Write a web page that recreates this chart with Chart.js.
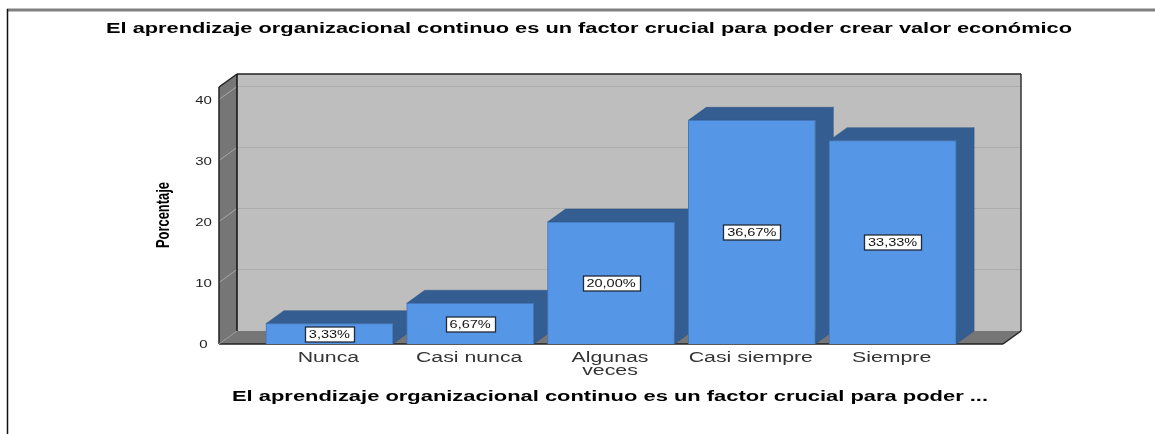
<!DOCTYPE html>
<html>
<head>
<meta charset="utf-8">
<title>Aprendizaje organizacional</title>
<script src="https://cdn.jsdelivr.net/npm/chart.js@4.4.0/dist/chart.umd.js"></script>
<style>
  html, body { margin: 0; padding: 0; background: #fff; overflow: hidden; }
  canvas { display: block; }
</style>
</head>
<body>
<canvas id="chart" width="1155" height="434"></canvas>
<script>
// Chart data
const categories = ['Nunca', 'Casi nunca', ['Algunas', 'veces'], 'Casi siempre', 'Siempre'];
const percentages = [3.33, 6.67, 20.00, 36.67, 33.33];
const yTicks = [0, 10, 20, 30, 40];
const chartTitle = 'El aprendizaje organizacional continuo es un factor crucial para poder crear valor económico';
const xTitle = 'El aprendizaje organizacional continuo es un factor crucial para poder ...';
const yTitle = 'Porcentaje';

// 3D look
const DEPTH_X = 18;
const DEPTH_Y = 13;
const WALL_MARGIN = 40; // gap between the chart area and the front edge of the floor
const SANS = '"Liberation Sans", sans-serif';
const LABEL_STRETCH = 1.32;

function poly(ctx, points, fill, stroke, lineWidth) {
  ctx.beginPath();
  points.forEach((p, i) => i ? ctx.lineTo(p[0], p[1]) : ctx.moveTo(p[0], p[1]));
  ctx.closePath();
  ctx.fillStyle = fill;
  ctx.fill();
  if (stroke) {
    ctx.strokeStyle = stroke;
    ctx.lineWidth = lineWidth || 1;
    ctx.stroke();
  }
}

function line(ctx, x1, y1, x2, y2, color, lineWidth) {
  ctx.beginPath();
  ctx.moveTo(x1, y1);
  ctx.lineTo(x2, y2);
  ctx.strokeStyle = color;
  ctx.lineWidth = lineWidth || 1;
  ctx.stroke();
}

// The reference text is stretched sideways, so squeeze or widen it to a given width or factor
function stretchedText(ctx, text, x, y, opts) {
  ctx.save();
  ctx.font = opts.font;
  ctx.fillStyle = opts.color || '#000';
  ctx.textAlign = 'center';
  ctx.textBaseline = 'middle';
  const sx = opts.width ? opts.width / ctx.measureText(text).width : opts.stretch;
  ctx.translate(x, y);
  if (opts.rotate) ctx.rotate(opts.rotate);
  ctx.scale(sx, 1);
  ctx.fillText(text, 0, 0);
  ctx.restore();
}

const walls3d = {
  id: 'walls3d',
  beforeDatasetsDraw(chart) {
    const { ctx, chartArea, scales } = chart;
    const left = chartArea.left - WALL_MARGIN;
    const right = chartArea.right + WALL_MARGIN;
    const bottom = chartArea.bottom;
    const top = chartArea.top;

    // page frame
    line(ctx, 7, 10, 1155, 10, '#808080', 3);
    line(ctx, 7.5, 9, 7.5, 434, '#111', 1.5);

    // back wall, left wall, floor
    poly(ctx, [[left + DEPTH_X, top - DEPTH_Y], [right + DEPTH_X, top - DEPTH_Y],
      [right + DEPTH_X, bottom - DEPTH_Y], [left + DEPTH_X, bottom - DEPTH_Y]], '#bebebe');
    poly(ctx, [[left, top], [left + DEPTH_X, top - DEPTH_Y],
      [left + DEPTH_X, bottom - DEPTH_Y], [left, bottom]], '#767676');
    poly(ctx, [[left, bottom], [left + DEPTH_X, bottom - DEPTH_Y],
      [right + DEPTH_X, bottom - DEPTH_Y], [right, bottom]], '#767676');

    // grid lines along both walls
    yTicks.slice(1).forEach(v => {
      const y = Math.round(scales.y.getPixelForValue(v)) - 0.5;
      line(ctx, left, y, left + DEPTH_X, y - DEPTH_Y, '#a8a8a8');
      line(ctx, left + DEPTH_X, y - DEPTH_Y, right + DEPTH_X, y - DEPTH_Y, '#adadad');
    });

    // wall outlines
    line(ctx, left, bottom, left, top, '#222', 1.5);
    line(ctx, left, top, left + DEPTH_X, top - DEPTH_Y, '#222', 1.5);
    line(ctx, left + DEPTH_X, top - DEPTH_Y, right + DEPTH_X, top - DEPTH_Y, '#222', 1.5);
    line(ctx, left + DEPTH_X, top - DEPTH_Y, left + DEPTH_X, bottom - DEPTH_Y, '#111', 1.5);
    line(ctx, right + DEPTH_X, top - DEPTH_Y, right + DEPTH_X, bottom - DEPTH_Y, '#333', 1.5);
    line(ctx, right + DEPTH_X, bottom - DEPTH_Y, right, bottom, '#222', 1.5);
    line(ctx, left, bottom, right, bottom, '#222', 1.5);
    line(ctx, left, bottom, left + DEPTH_X, bottom - DEPTH_Y, '#999');

    // top and side of each bar, left to right so the next bar overlaps
    chart.getDatasetMeta(0).data.forEach(bar => {
      const x1 = bar.x - bar.width / 2;
      const x2 = bar.x + bar.width / 2;
      poly(ctx, [[x2, bar.y], [x2 + DEPTH_X, bar.y - DEPTH_Y],
        [x2 + DEPTH_X, bar.base - DEPTH_Y], [x2, bar.base]], '#345d91', '#2f5482', 0.5);
      poly(ctx, [[x1, bar.y], [x1 + DEPTH_X, bar.y - DEPTH_Y],
        [x2 + DEPTH_X, bar.y - DEPTH_Y], [x2, bar.y]], '#345d91', '#2f5482', 0.5);
    });
  },
  afterDatasetsDraw(chart) {
    const { ctx, scales } = chart;

    // value boxes, as wide as their text
    chart.getDatasetMeta(0).data.forEach((bar, i) => {
      const text = percentages[i].toFixed(2).replace('.', ',') + '%';
      const font = '11px ' + SANS;
      ctx.font = font;
      const boxW = Math.round(ctx.measureText(text).width * LABEL_STRETCH) + 8;
      const boxH = 15;
      const cy = Math.round((bar.y + bar.base) / 2) + 0.5;
      const bx = Math.round(bar.x - boxW / 2) + 0.5;
      ctx.fillStyle = '#fff';
      ctx.fillRect(bx, cy - boxH / 2, boxW, boxH);
      ctx.strokeStyle = '#1f2a3a';
      ctx.lineWidth = 1.3;
      ctx.strokeRect(bx, cy - boxH / 2, boxW, boxH);
      stretchedText(ctx, text, bar.x, cy + 0.5, { font, stretch: LABEL_STRETCH, color: '#111' });
    });

    // y ticks
    yTicks.forEach(v => {
      stretchedText(ctx, String(v), 203.5, scales.y.getPixelForValue(v) + 1.5, {
        font: '10px ' + SANS, stretch: 1.5, color: '#222'
      });
    });

    // x ticks
    categories.forEach((label, i) => {
      const lines = Array.isArray(label) ? label : [label];
      lines.forEach((text, j) => {
        stretchedText(ctx, text, scales.x.getPixelForTick(i) - 1, 358 + j * 13, {
          font: '14px ' + SANS, stretch: 1.52, color: '#333'
        });
      });
    });

    // titles
    stretchedText(ctx, chartTitle, 589, 29.5, { font: 'bold 14px ' + SANS, width: 966 });
    stretchedText(ctx, xTitle, 610, 397.5, { font: 'bold 14px ' + SANS, width: 756 });
    stretchedText(ctx, yTitle, 164.5, 215, {
      font: 'bold 18px ' + SANS, width: 66, rotate: -Math.PI / 2
    });
  }
};

new Chart(document.getElementById('chart'), {
  type: 'bar',
  data: {
    labels: categories,
    datasets: [{
      label: 'Porcentaje',
      data: percentages,
      backgroundColor: '#5596e6',
      borderColor: '#4478b8',
      borderWidth: 1,
      barThickness: 127
    }]
  },
  options: {
    responsive: false,
    animation: false,
    layout: { padding: { left: 259, right: 192, top: 87, bottom: 90 } },
    plugins: {
      legend: { display: false },
      title: { display: false },
      tooltip: { enabled: false }
    },
    scales: {
      x: {
        grid: { display: false },
        border: { display: false },
        ticks: { display: false },
        afterFit(scale) { scale.height = 0; }
      },
      y: {
        min: 0,
        max: 42.13,
        grid: { display: false },
        border: { display: false },
        ticks: { display: false, stepSize: 10, includeBounds: false },
        afterFit(scale) { scale.width = 0; }
      }
    }
  },
  plugins: [walls3d]
});
</script>
</body>
</html>
